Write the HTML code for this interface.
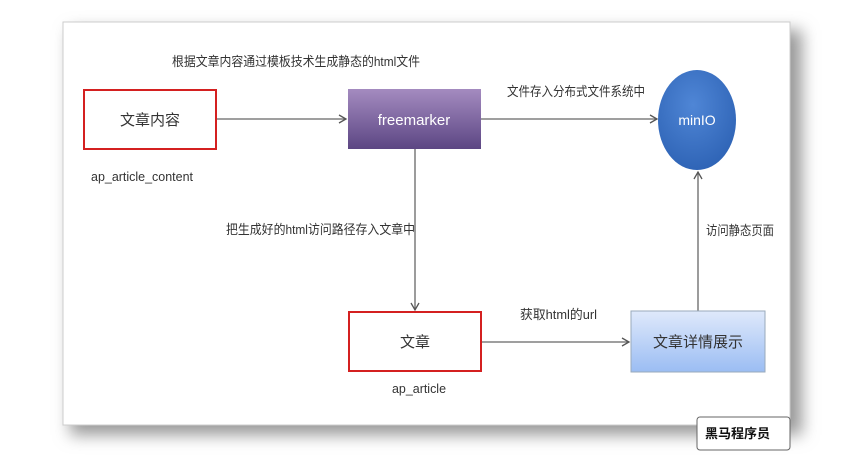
<!DOCTYPE html>
<html><head><meta charset="utf-8"><style>
body{margin:0;width:841px;height:469px;background:#fff;overflow:hidden;font-family:"Liberation Sans","Noto Sans CJK SC",sans-serif;}
</style></head><body>
<svg width="841" height="469" xmlns="http://www.w3.org/2000/svg" style="position:absolute;left:0;top:0">
<defs>
<linearGradient id="pg" x1="0" y1="0" x2="0" y2="1"><stop offset="0" stop-color="#a48bc0"/><stop offset="1" stop-color="#5c4683"/></linearGradient>
<linearGradient id="bg" x1="0" y1="0" x2="0" y2="1"><stop offset="0" stop-color="#dfe9fb"/><stop offset="1" stop-color="#9bbdf3"/></linearGradient>
<radialGradient id="cg" cx="0.45" cy="0.35" r="0.7"><stop offset="0" stop-color="#4f86d6"/><stop offset="1" stop-color="#2d62b4"/></radialGradient>
<filter id="sh" x="-10%" y="-10%" width="130%" height="130%"><feGaussianBlur stdDeviation="8"/></filter>
<marker id="ar" markerWidth="10" markerHeight="10" refX="8" refY="5" orient="auto" markerUnits="userSpaceOnUse"><path d="M1,1 L8,5 L1,9" fill="none" stroke="#555" stroke-width="1.3"/></marker>
</defs>
<rect x="70" y="30" width="732" height="405" fill="#999" filter="url(#sh)"/>
<rect x="63" y="22" width="727" height="403" fill="#fff" stroke="#ccc"/>
<g font-size="13" fill="#333">
<text x="172" y="66" textLength="248" lengthAdjust="spacingAndGlyphs">根据文章内容通过模板技术生成静态的html文件</text>
<text x="507" y="96" textLength="138" lengthAdjust="spacingAndGlyphs">文件存入分布式文件系统中</text>
<text x="226" y="234" textLength="189" lengthAdjust="spacingAndGlyphs">把生成好的html访问路径存入文章中</text>
<text x="706" y="235" textLength="68" lengthAdjust="spacingAndGlyphs">访问静态页面</text>
<text x="520" y="319" textLength="77" lengthAdjust="spacingAndGlyphs">获取html的url</text>
<text x="91" y="181" textLength="102" lengthAdjust="spacingAndGlyphs">ap_article_content</text>
<text x="392" y="393" textLength="54" lengthAdjust="spacingAndGlyphs">ap_article</text>
</g>
<g stroke="#666" stroke-width="1.3" fill="none">
<line x1="216" y1="119" x2="346" y2="119" marker-end="url(#ar)"/>
<line x1="481" y1="119" x2="657" y2="119" marker-end="url(#ar)"/>
<line x1="415" y1="149" x2="415" y2="310" marker-end="url(#ar)"/>
<line x1="481" y1="342" x2="629" y2="342" marker-end="url(#ar)"/>
<line x1="698" y1="311" x2="698" y2="172" marker-end="url(#ar)"/>
</g>
<rect x="84" y="90" width="132" height="59" fill="#fff" stroke="#d42020" stroke-width="2"/>
<text x="150" y="125" font-size="15" fill="#333" text-anchor="middle">文章内容</text>
<rect x="348" y="89" width="133" height="60" fill="url(#pg)"/>
<text x="414" y="125" font-size="15" fill="#fff" text-anchor="middle">freemarker</text>
<ellipse cx="697" cy="120" rx="39" ry="50" fill="url(#cg)"/>
<text x="697" y="125" font-size="14" fill="#fff" text-anchor="middle">minIO</text>
<rect x="349" y="312" width="132" height="59" fill="#fff" stroke="#d42020" stroke-width="2"/>
<text x="415" y="347" font-size="15" fill="#333" text-anchor="middle">文章</text>
<rect x="631" y="311" width="134" height="61" fill="url(#bg)" stroke="#9ab" stroke-width="1"/>
<text x="698" y="347" font-size="15" fill="#333" text-anchor="middle">文章详情展示</text>
<rect x="697" y="417" width="93" height="33" rx="3" fill="#fff" stroke="#666"/>
<text x="705" y="438" font-size="13" font-weight="bold" fill="#111">黑马程序员</text>
</svg>
</body></html>
